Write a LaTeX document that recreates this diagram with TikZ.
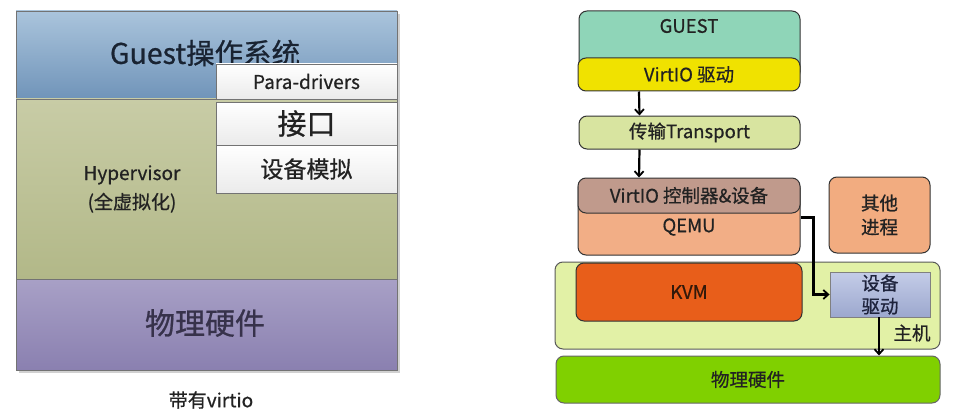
\documentclass[tikz,border=0pt]{standalone}
\usepackage{fontspec}
\setmainfont{Noto Sans CJK SC}[FakeBold=0.7]
\usetikzlibrary{arrows.meta,calc}
\definecolor{txt}{HTML}{222222}
\begin{document}
\begin{tikzpicture}[x=1pt,y=-1pt,
  band/.style={draw=black!55,line width=0.8pt,minimum width=381pt,inner sep=0pt,anchor=center},
  wbox/.style={draw=black!55,line width=0.8pt,top color=white,bottom color=black!8,minimum width=181pt,inner sep=0pt},
  rbox/.style={draw=black!80,line width=1pt,rounded corners=8pt,inner sep=0pt,text=txt,font=\fontsize{18.5}{21}\selectfont},
  lbl/.style={text=txt,inner sep=0pt,font=\fontsize{18.5}{22}\selectfont,align=center},
  arr/.style={line width=2.2pt,-{Straight Barb[length=5pt,width=9pt,line width=1.8pt]}}
]
\useasboundingbox (0,0) rectangle (959,420);
% ---------- left diagram ----------
\fill[black!18] (19,14) rectangle (400,373);
\node[band,minimum height=88pt,top color={rgb,255:red,170;green,196;blue,220},bottom color={rgb,255:red,112;green,148;blue,185}] (gband) at (206.5,55) {};
\node[band,minimum height=180pt,top color={rgb,255:red,200;green,204;blue,166},bottom color={rgb,255:red,178;green,184;blue,136}] (hband) at (206.5,189) {};
\node[band,minimum height=91pt,top color={rgb,255:red,168;green,160;blue,198},bottom color={rgb,255:red,138;green,128;blue,176}] (pband) at (206.5,324.5) {};
\node[text={rgb,255:red,25;green,35;blue,50},font=\fontsize{28.5}{32}\selectfont,inner sep=0pt] (gtxt) at (205,53) {Guest操作系统};
\node[wbox,minimum height=35pt] (para) at (306.5,81.5) {};
\node[font=\fontsize{19}{22}\selectfont,text=txt,inner sep=0pt] (paratxt) at (para.center) {Para-drivers};
\node[wbox,minimum height=43pt,font=\fontsize{29}{32}\selectfont,text=txt] (jk) at (306.5,123.5) {接口};
\node[wbox,minimum height=48pt,font=\fontsize{23}{26}\selectfont,text=txt] (sbmn) at (306.5,169) {设备模拟};
\node[lbl,font=\fontsize{19}{29}\selectfont] (hyp) at (132,189) {Hypervisor\\(全虚拟化)};
\node[text={rgb,255:red,55;green,50;blue,75},font=\fontsize{30}{34}\selectfont,inner sep=0pt] (wl) at (205,323) {物理硬件};
\node[lbl,font=\fontsize{19}{22}\selectfont] (cap) at (211,400) {带有virtio};
% ---------- right diagram ----------
\node[rbox,minimum width=221pt,minimum height=69pt,fill={rgb,255:red,143;green,213;blue,184}] (guest) at (689.5,45.5) {};
\node[lbl] (guesttxt) at (689,26) {GUEST};
\node[rbox,minimum width=222pt,minimum height=33pt,fill={rgb,255:red,240;green,226;blue,0}] (vd) at (689,74.5) {VirtIO 驱动};
\node[rbox,minimum width=221pt,minimum height=33pt,fill={rgb,255:red,216;green,228;blue,160}] (tr) at (689.5,132.5) {传输Transport};
\node[rbox,minimum width=222pt,minimum height=75pt,fill={rgb,255:red,242;green,174;blue,134}] (qemu) at (689,217.5) {};
\node[lbl] (qemutxt) at (689,227) {QEMU};
\node[rbox,minimum width=222pt,minimum height=35pt,fill={rgb,255:red,192;green,154;blue,140}] (vc) at (689,195.5) {VirtIO 控制器\&设备};
\node[rbox,minimum width=101pt,minimum height=76pt,fill={rgb,255:red,242;green,172;blue,128},align=center,font=\fontsize{18.5}{24}\selectfont] (other) at (879.5,215) {其他\\进程};
\node[rbox,minimum width=385pt,minimum height=87pt,fill={rgb,255:red,226;green,241;blue,166},draw=black!65] (host) at (747.5,305.5) {};
\node[lbl] (hosttxt) at (912,333) {主机};
\node[rbox,minimum width=226pt,minimum height=58pt,fill={rgb,255:red,232;green,94;blue,26},text={rgb,255:red,50;green,25;blue,10}] (kvm) at (689,292) {KVM};
\node[draw=black!50,line width=0.8pt,minimum width=100pt,minimum height=45pt,inner sep=0pt,top color={rgb,255:red,196;green,204;blue,232},bottom color={rgb,255:red,156;green,168;blue,206},align=center,text={rgb,255:red,30;green,35;blue,60},font=\fontsize{18.5}{23}\selectfont] (dd) at (880,294.5) {设备\\驱动};
\node[rbox,minimum width=384pt,minimum height=47pt,fill={rgb,255:red,128;green,208;blue,0},draw=black!60] (hw) at (748,379.5) {物理硬件};
% ---------- connectors ----------
\draw[arr] ([xshift=-50pt]vd.south) -- ([xshift=-50pt]tr.north);
\draw[arr] ([xshift=-50pt]tr.south) -- ([xshift=-50pt]vc.north);
\draw[arr] (qemu.east) -- ++(13,0) |- (dd.west);
\draw[arr] ([xshift=-1pt]dd.south) -- ([xshift=-1pt]dd.south |- hw.north);
\end{tikzpicture}
\end{document}
